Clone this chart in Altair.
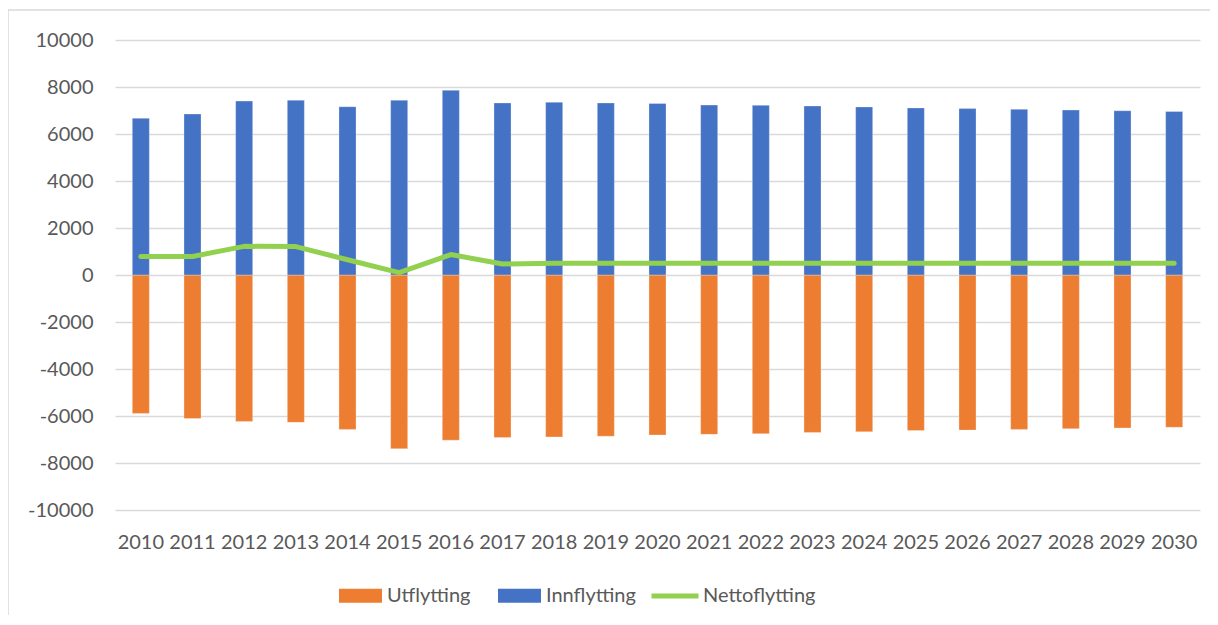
import altair as alt
import pandas as pd

years = [str(y) for y in range(2010, 2031)]
innflytting = [6670, 6850, 7400, 7440, 7160, 7440, 7860, 7320, 7350, 7320, 7300,
               7230, 7220, 7190, 7150, 7110, 7080, 7050, 7020, 6990, 6960]
utflytting = [-5890, -6110, -6230, -6270, -6570, -7390, -7030, -6920, -6890, -6860, -6810,
              -6780, -6750, -6700, -6670, -6620, -6600, -6570, -6540, -6510, -6480]
netto = [790, 790, 1220, 1210, 650, 100, 870, 470, 500, 500, 500,
         500, 500, 500, 500, 500, 500, 500, 500, 500, 500]

bar_series = ["Utflytting", "Innflytting"]
line_series = ["Nettoflytting"]
y_ticks = list(range(-10000, 10001, 2000))

bars_df = pd.DataFrame(
    [{"year": y, "series": "Utflytting", "value": v} for y, v in zip(years, utflytting)]
    + [{"year": y, "series": "Innflytting", "value": v} for y, v in zip(years, innflytting)]
)
line_df = pd.DataFrame({"year": years, "series": "Nettoflytting", "value": netto})

FONT = "Lato"
TXT = "#595959"
GRID = "#d9d9d9"

x_enc = alt.X("year:O", sort=years, title=None,
              scale=alt.Scale(paddingInner=0.67, paddingOuter=0.335),
              axis=alt.Axis(labelAngle=0, domain=False, ticks=False, labelPadding=22,
                            labelFontSize=20, labelColor=TXT, labelFont=FONT, grid=False))

bars = alt.Chart(bars_df).mark_bar(strokeWidth=0.6, stroke="white", strokeOpacity=0.5).encode(
    x=x_enc,
    y=alt.Y("value:Q", stack=None, title=None,
            scale=alt.Scale(domain=[-10000, 10000], nice=False),
            axis=alt.Axis(values=y_ticks, domain=False, ticks=False, labelPadding=22,
                          labelFontSize=20, labelColor=TXT, labelFont=FONT,
                          labelExpr="'' + datum.value",
                          grid=True, gridColor=GRID, gridWidth=1.3)),
    fill=alt.Fill("series:N", sort=bar_series,
                  scale=alt.Scale(domain=bar_series, range=["#ED7D31", "#4472C4"]),
                  legend=alt.Legend(title=None, orient="none", direction="horizontal",
                                    legendX=224, legendY=534, padding=0,
                                    symbolType="M-1,-0.33H1V0.33H-1Z", symbolSize=1849,
                                    symbolStrokeWidth=0, labelFontSize=20, labelFont=FONT,
                                    labelColor=TXT, labelOffset=5, columnPadding=27)),
)

line = alt.Chart(line_df).mark_line(strokeWidth=5, strokeCap="round", strokeJoin="round").encode(
    x=alt.X("year:O", sort=years),
    y=alt.Y("value:Q"),
    stroke=alt.Stroke("series:N",
                      scale=alt.Scale(domain=line_series, range=["#92D050"]),
                      legend=alt.Legend(title=None, orient="none", direction="horizontal",
                                        legendX=534, legendY=530, padding=0,
                                        symbolType="stroke", symbolSize=2209,
                                        symbolStrokeWidth=5, labelFontSize=20, labelFont=FONT,
                                        labelColor=TXT, labelOffset=2)),
)

border_left = alt.Chart(pd.DataFrame({"a": [0]})).mark_rule(color=GRID, strokeWidth=1.5).encode(
    x=alt.value(-107), y=alt.value(-30), y2=alt.value(700))
border_top = alt.Chart(pd.DataFrame({"a": [0]})).mark_rule(color=GRID, strokeWidth=1.5).encode(
    x=alt.value(-107), x2=alt.value(1300), y=alt.value(-30))

chart = alt.layer(bars, line, border_left, border_top).resolve_scale(
    fill="independent", stroke="independent"
).properties(
    width=1085, height=470,
    autosize=alt.AutoSizeParams(type="none"),
    padding={"left": 107, "top": 32, "right": 10, "bottom": 105},
    background="white",
).configure_view(stroke=None)

chart.save("out.html", embed_options={"renderer": "svg", "actions": False})
